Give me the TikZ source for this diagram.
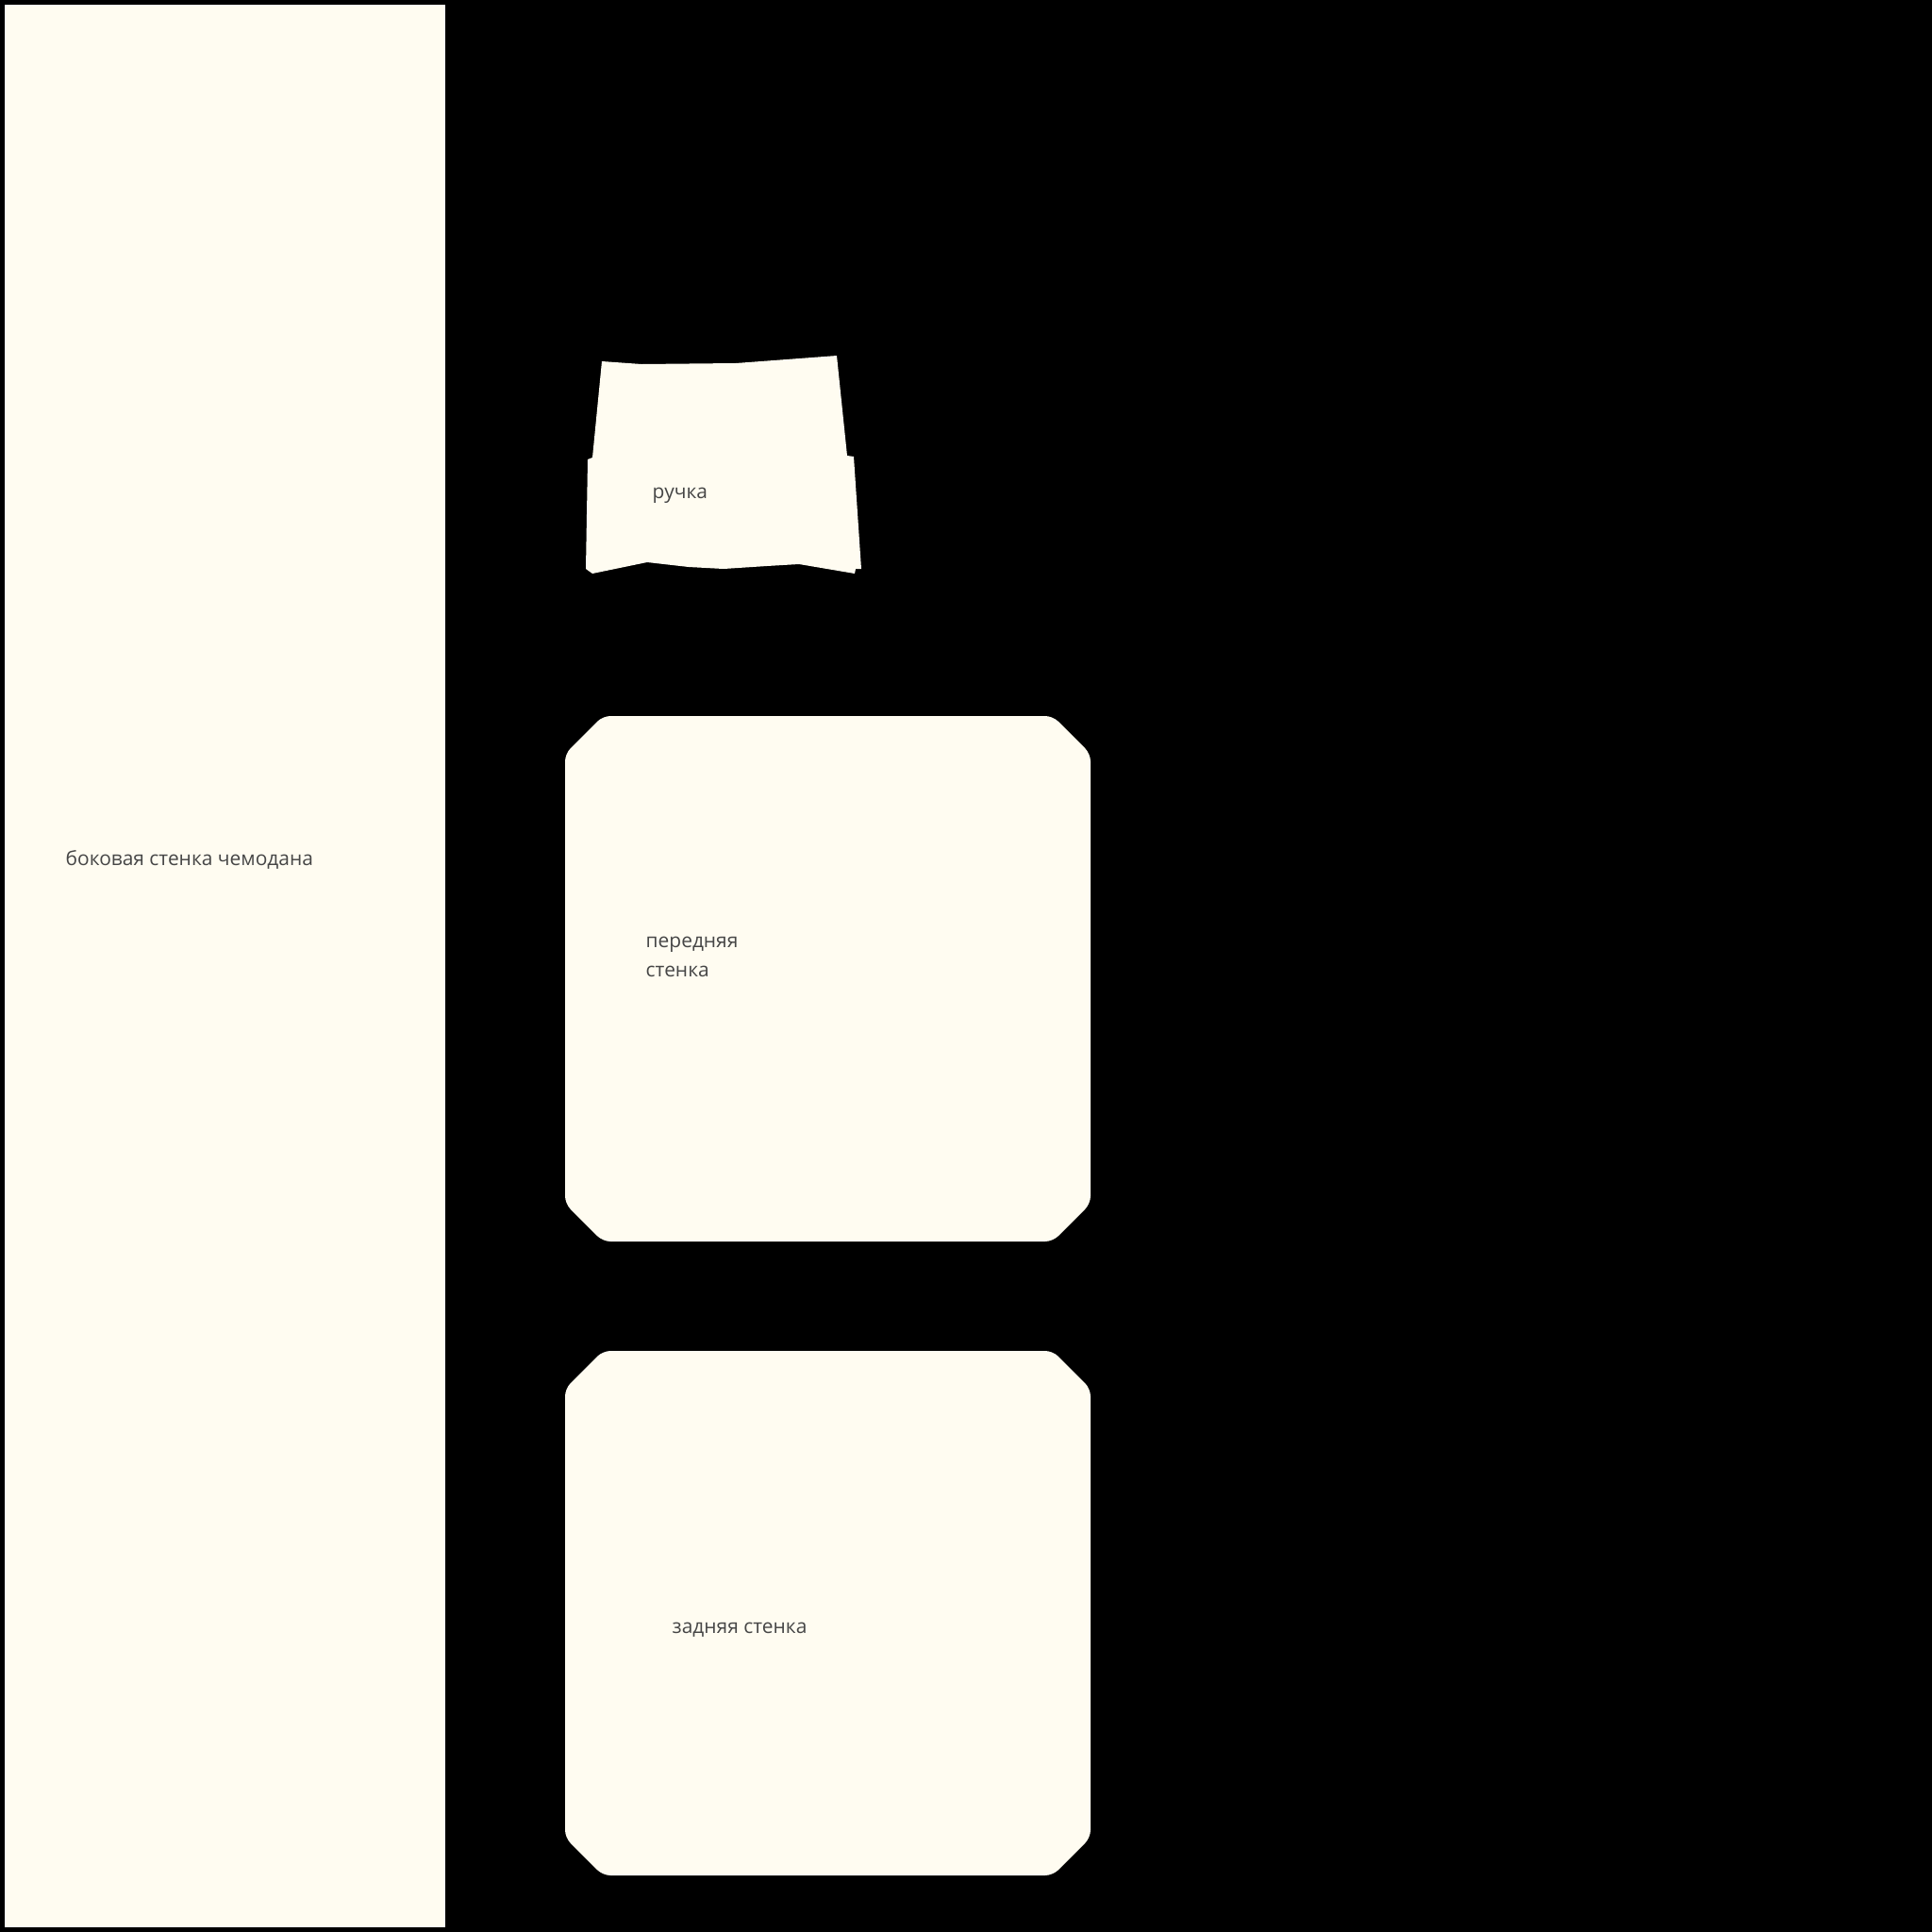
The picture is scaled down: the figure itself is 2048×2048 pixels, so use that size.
\documentclass[tikz,border=0pt]{standalone}
\usepackage{fontspec}
\setmainfont{Open Sans}
\definecolor{panel}{RGB}{255,252,241}
\definecolor{ink}{RGB}{70,70,70}
\tikzset{
  part/.style={fill=panel},
  wall/.style={part, rounded corners=0.08cm},
  partlabel/.style={anchor=base west, inner sep=0pt, text=ink, font=\fontsize{5.95}{8.8}\selectfont, align=left}
}
\begin{document}
\begin{tikzpicture}[x=0.01cm, y=-0.01cm]
%\draw[help lines, step=100] (0,0) grid (2048,2048);
\fill[black] (0,0) rectangle (2048,2048);
\useasboundingbox (0,0) rectangle (2048,2048);
%%%%%%%%%%%%%%%%%%%%%%%%%%%%%%% side panel
\fill[part] (5,5) rectangle (472,2043);
\node[partlabel](side) at (69,917){боковая стенка чемодана};
%%%%%%%%%%%%%%%%%%%%%%%%%%%%%%% handle
\fill[part] (638,383) -- (680,386) -- (780,385) -- (887,377) -- (898,483) -- (905,484)
  -- (913,603) -- (907,603) -- (906,608) -- (847,598) -- (813,600) -- (767,603)
  -- (730,601) -- (686,596) -- (628,608) -- (621,603) -- (623,487) -- (628,485) -- cycle;
\node[partlabel](handle) at (691,528){ручка};
%%%%%%%%%%%%%%%%%%%%%%%%%%%%%%% front wall
\fill[wall] (599,799) -- (639,759) -- (1116,759) -- (1156,799) -- (1156,1276)
  -- (1116,1316) -- (639,1316) -- (599,1276) -- cycle;
\node[partlabel](front) at (684,1035){передняя\\стенка};
%%%%%%%%%%%%%%%%%%%%%%%%%%%%%%% back wall
\fill[wall] (599,1472) -- (639,1432) -- (1116,1432) -- (1156,1472) -- (1156,1948)
  -- (1116,1988) -- (639,1988) -- (599,1948) -- cycle;
\node[partlabel](back) at (712,1731){задняя стенка};
\end{tikzpicture}
\end{document}
